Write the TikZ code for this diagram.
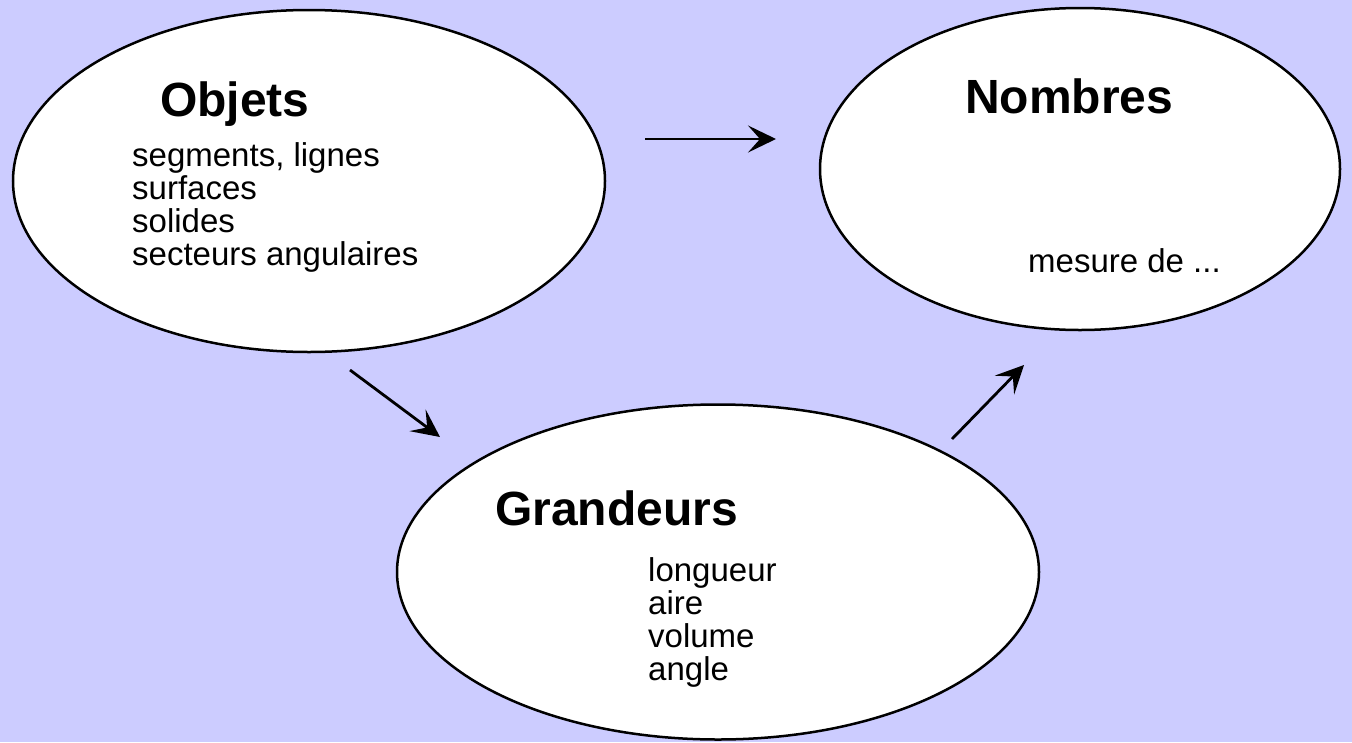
\documentclass[tikz,border=0pt]{standalone}
\usepackage{fontspec}
\setmainfont{Liberation Sans}
\usetikzlibrary{shapes.geometric,arrows.meta}
\definecolor{bgblue}{RGB}{204,204,255}
\begin{document}
\begin{tikzpicture}[x=1pt,y=-1pt,
  bubble/.style={ellipse,draw=black,fill=white,line width=2.5pt,inner sep=0pt},
  title/.style={anchor=base west,inner sep=0pt,font=\fontsize{48}{48}\selectfont\bfseries},
  items/.style={anchor=base west,inner sep=0pt,align=left,font=\fontsize{33}{33}\selectfont},
  link/.style={line width=2.8pt,-{Stealth[length=28pt,width=27pt,inset=12pt]}}]
\fill[bgblue] (0,0) rectangle (1352,742);
\useasboundingbox (0,0) rectangle (1352,742);
\node[bubble,minimum width=592pt,minimum height=342pt] (objE) at (309,181) {};
\node[bubble,minimum width=520pt,minimum height=322pt] (nomE) at (1080,169) {};
\node[bubble,minimum width=642pt,minimum height=335pt] (graE) at (718,572) {};
\node[title] (objT) at (160,116) {Objets};
\node[title] (nomT) at (965,113) {Nombres};
\node[title] (graT) at (495,525) {Grandeurs};
\node[items] (objL) at (132,265) {segments, lignes\\surfaces\\solides\\secteurs angulaires};
\node[items] (nomL) at (1028,272) {mesure de ...};
\node[items] (graL) at (648,680) {longueur\\aire\\volume\\angle};
\coordinate (a1s) at (645,139);
\coordinate (a1e) at (776,139);
\coordinate (a2s) at (350,370);
\coordinate (a2e) at (440,437);
\coordinate (a3s) at (952,439);
\coordinate (a3e) at (1024,365);
\draw[link] (a1s) -- (a1e);
\draw[link] (a2s) -- (a2e);
\draw[link] (a3s) -- (a3e);
\end{tikzpicture}
\end{document}
